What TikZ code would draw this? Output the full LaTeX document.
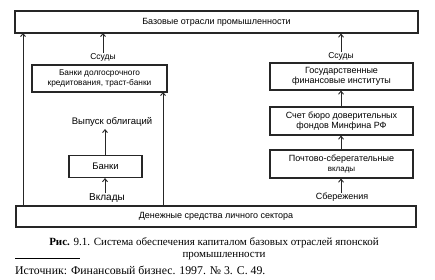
\documentclass[tikz,border=0pt]{standalone}
\usepackage{fontspec}
\setmainfont{Liberation Serif}
\setsansfont{Liberation Sans}
\usetikzlibrary{arrows.meta}
\begin{document}
\begin{tikzpicture}[x=1pt,y=-1pt,
  box/.style={draw=black!85,line width=1.1pt,inner sep=1pt,align=center,font=\sffamily\fontsize{9}{10.5}\selectfont},
  lbl/.style={inner sep=0pt,font=\sffamily\fontsize{9}{10}\selectfont},
  arr/.style={-{Straight Barb[length=3pt,width=5pt,line width=0.9pt]},line width=0.9pt,black!85}]
\useasboundingbox (0,0) rectangle (435,280);
\node[box,minimum width=403pt,minimum height=22pt] (top) at (216.5,22) {Базовые отрасли промышленности};
\node[box,minimum width=400pt,minimum height=21pt] (bot) at (216,216.5) {Денежные средства личного сектора};
\node[box,minimum width=135pt,minimum height=27pt,font=\sffamily\fontsize{8.3}{10}\selectfont] (ltb) at (99.5,78.5) {Банки долгосрочного\\кредитования, траст-банки};
\node[box,minimum width=73pt,minimum height=22pt,font=\sffamily\fontsize{9.5}{10}\selectfont] (banki) at (105.5,166.5) {Банки};
\node[box,minimum width=143pt,minimum height=27pt] (gov) at (341.5,76.5) {Государственные\\финансовые институты};
\node[box,minimum width=143pt,minimum height=28pt] (schet) at (341.5,121) {Счет бюро доверительных\\фондов Минфина РФ};
\node[box,minimum width=143pt,minimum height=28pt] (pochta) at (341.5,164) {Почтово-сберегательные\\{\fontsize{8}{9}\selectfont вклады}};
\node[lbl,font=\sffamily\fontsize{8.5}{10}\selectfont] (ss1) at (103,57) {Ссуды};
\node[lbl,font=\sffamily\fontsize{9.5}{10}\selectfont] (vyp) at (112,122) {Выпуск облигаций};
\node[lbl,font=\sffamily\fontsize{10}{10}\selectfont] (vkl) at (107,198) {Вклады};
\node[lbl,font=\sffamily\fontsize{8.5}{10}\selectfont] (ss2) at (341,56) {Ссуды};
\node[lbl] (sber) at (342,197) {Сбережения};
\coordinate (lb) at (23,206);
\coordinate (lt) at (23,33);
\coordinate (rb) at (163,206);
\coordinate (rt) at (163,92);
\draw[arr] (lb) -- (lt);
\draw[arr] (rb) -- (rt);
\draw[arr] (ss1.north -| 103,0) -- (103,33);
\draw[arr] (banki.north -| 105,0) -- (105,129);
\draw[arr] (vkl.north -| 105,0) -- (banki.south -| 105,0);
\draw[arr] (ss2.north -| 341,0) -- (top.south -| 341,0);
\draw[arr] (schet.north -| 341,0) -- (gov.south -| 341,0);
\draw[arr] (pochta.north -| 341,0) -- (schet.south -| 341,0);
\draw[arr] (sber.north -| 341,0) -- (pochta.south -| 341,0);
\node[inner sep=0pt,align=center,font=\fontsize{11}{12}\selectfont] (cap) at (214,248.5) {\textbf{Рис.} 9.1. Система обеспечения капиталом базовых отраслей японской\\\hspace*{20pt}промышленности};
\coordinate (r1) at (15,258);
\coordinate (r2) at (80,258);
\draw[line width=0.6pt] (r1) -- (r2);
\node[anchor=west,inner sep=0pt,font=\fontsize{11.8}{12}\selectfont] (src) at (15,270) {Источник: Финансовый бизнес. 1997. №~3. С.~49.};
\end{tikzpicture}
\end{document}
